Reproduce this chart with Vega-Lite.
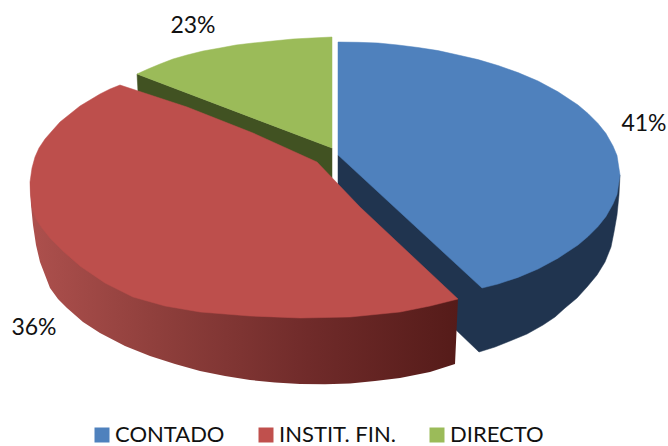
{"$schema":"https://vega.github.io/schema/vega-lite/v6.json","width":668,"height":446,"padding":0,"autosize":"none","background":"white","config":{"view":{"stroke":null}},
"datasets":{
"slices":[{"series":"CONTADO","share":0.41,"lx":644,"ly":124,"cx":450,"cy":150},{"series":"INSTIT. FIN.","share":0.36,"lx":34,"ly":328,"cx":200,"cy":200},{"series":"DIRECTO","share":0.23,"lx":193,"ly":26,"cx":280,"cy":90}],
"outline":[
{"part":"green_wall","order":1,"x":137,"y":74},{"part":"green_wall","order":2,"x":138,"y":92},{"part":"green_wall","order":3,"x":332,"y":178},{"part":"green_wall","order":4,"x":332,"y":148},
{"part":"green_top","order":1,"x":332,"y":148},{"part":"green_top","order":2,"x":332,"y":37},{"part":"green_top","order":3,"x":312,"y":38},{"part":"green_top","order":4,"x":293,"y":39},{"part":"green_top","order":5,"x":273,"y":41},{"part":"green_top","order":6,"x":253,"y":43},{"part":"green_top","order":7,"x":236,"y":45},{"part":"green_top","order":8,"x":220,"y":48},{"part":"green_top","order":9,"x":203,"y":51},{"part":"green_top","order":10,"x":187,"y":55},{"part":"green_top","order":11,"x":173,"y":59},{"part":"green_top","order":12,"x":160,"y":64},{"part":"green_top","order":13,"x":148,"y":69},{"part":"green_top","order":14,"x":137,"y":74},
{"part":"blue_wall","order":1,"x":620,"y":175},{"part":"blue_wall","order":2,"x":619,"y":195},{"part":"blue_wall","order":3,"x":617,"y":215},{"part":"blue_wall","order":4,"x":614,"y":232},{"part":"blue_wall","order":5,"x":611,"y":247},{"part":"blue_wall","order":6,"x":605,"y":262},{"part":"blue_wall","order":7,"x":597,"y":275},{"part":"blue_wall","order":8,"x":587,"y":287},{"part":"blue_wall","order":9,"x":577,"y":298},{"part":"blue_wall","order":10,"x":565,"y":308},{"part":"blue_wall","order":11,"x":555,"y":317},{"part":"blue_wall","order":12,"x":543,"y":325},{"part":"blue_wall","order":13,"x":527,"y":334},{"part":"blue_wall","order":14,"x":510,"y":341},{"part":"blue_wall","order":15,"x":495,"y":347},{"part":"blue_wall","order":16,"x":479,"y":352},{"part":"blue_wall","order":17,"x":456,"y":330},{"part":"blue_wall","order":18,"x":338,"y":190},{"part":"blue_wall","order":19,"x":338,"y":155},{"part":"blue_wall","order":20,"x":480,"y":180},
{"part":"blue_top","order":1,"x":338,"y":155},{"part":"blue_top","order":2,"x":338,"y":42},{"part":"blue_top","order":3,"x":358,"y":42.3},{"part":"blue_top","order":4,"x":378,"y":43},{"part":"blue_top","order":5,"x":398,"y":45},{"part":"blue_top","order":6,"x":418,"y":47.5},{"part":"blue_top","order":7,"x":438,"y":50.6},{"part":"blue_top","order":8,"x":458,"y":55},{"part":"blue_top","order":9,"x":478,"y":59.6},{"part":"blue_top","order":10,"x":498,"y":65.5},{"part":"blue_top","order":11,"x":518,"y":72.6},{"part":"blue_top","order":12,"x":538,"y":81},{"part":"blue_top","order":13,"x":558,"y":91.8},{"part":"blue_top","order":14,"x":578,"y":105},{"part":"blue_top","order":15,"x":588,"y":113.5},{"part":"blue_top","order":16,"x":598,"y":123.5},{"part":"blue_top","order":17,"x":606,"y":133.6},{"part":"blue_top","order":18,"x":613,"y":146},{"part":"blue_top","order":19,"x":617,"y":155.6},{"part":"blue_top","order":20,"x":620,"y":175},{"part":"blue_top","order":21,"x":617,"y":194.4},{"part":"blue_top","order":22,"x":613,"y":204},{"part":"blue_top","order":23,"x":606,"y":216.4},{"part":"blue_top","order":24,"x":598,"y":226.5},{"part":"blue_top","order":25,"x":588,"y":236.5},{"part":"blue_top","order":26,"x":578,"y":245},{"part":"blue_top","order":27,"x":558,"y":258.2},{"part":"blue_top","order":28,"x":538,"y":269},{"part":"blue_top","order":29,"x":518,"y":277.4},{"part":"blue_top","order":30,"x":498,"y":284},{"part":"blue_top","order":31,"x":482,"y":288},
{"part":"red_wall","order":1,"x":30,"y":182},{"part":"red_wall","order":2,"x":31,"y":205},{"part":"red_wall","order":3,"x":33,"y":225},{"part":"red_wall","order":4,"x":36,"y":245},{"part":"red_wall","order":5,"x":40,"y":262},{"part":"red_wall","order":6,"x":50,"y":288},{"part":"red_wall","order":7,"x":58,"y":299},{"part":"red_wall","order":8,"x":67,"y":308},{"part":"red_wall","order":9,"x":83,"y":322},{"part":"red_wall","order":10,"x":100,"y":333},{"part":"red_wall","order":11,"x":125,"y":346},{"part":"red_wall","order":12,"x":150,"y":356},{"part":"red_wall","order":13,"x":175,"y":364},{"part":"red_wall","order":14,"x":200,"y":371},{"part":"red_wall","order":15,"x":225,"y":376},{"part":"red_wall","order":16,"x":250,"y":380},{"part":"red_wall","order":17,"x":275,"y":382.5},{"part":"red_wall","order":18,"x":300,"y":384},{"part":"red_wall","order":19,"x":325,"y":384.3},{"part":"red_wall","order":20,"x":350,"y":383.5},{"part":"red_wall","order":21,"x":375,"y":381},{"part":"red_wall","order":22,"x":400,"y":378},{"part":"red_wall","order":23,"x":430,"y":372},{"part":"red_wall","order":24,"x":455,"y":364},{"part":"red_wall","order":25,"x":458,"y":299},{"part":"red_wall","order":26,"x":300,"y":280},
{"part":"red_top","order":1,"x":120,"y":85},{"part":"red_top","order":2,"x":110,"y":89},{"part":"red_top","order":3,"x":100,"y":94},{"part":"red_top","order":4,"x":90,"y":100},{"part":"red_top","order":5,"x":80,"y":106},{"part":"red_top","order":6,"x":70,"y":114},{"part":"red_top","order":7,"x":60,"y":122},{"part":"red_top","order":8,"x":52,"y":131},{"part":"red_top","order":9,"x":45,"y":139},{"part":"red_top","order":10,"x":39,"y":148},{"part":"red_top","order":11,"x":35,"y":157},{"part":"red_top","order":12,"x":32,"y":168},{"part":"red_top","order":13,"x":30,"y":182},{"part":"red_top","order":14,"x":30.5,"y":195},{"part":"red_top","order":15,"x":32,"y":207},{"part":"red_top","order":16,"x":36,"y":219},{"part":"red_top","order":17,"x":42,"y":228},{"part":"red_top","order":18,"x":50,"y":238},{"part":"red_top","order":19,"x":64,"y":252},{"part":"red_top","order":20,"x":80,"y":266},{"part":"red_top","order":21,"x":105,"y":283},{"part":"red_top","order":22,"x":133,"y":297},{"part":"red_top","order":23,"x":165,"y":306},{"part":"red_top","order":24,"x":200,"y":312},{"part":"red_top","order":25,"x":250,"y":316},{"part":"red_top","order":26,"x":300,"y":318},{"part":"red_top","order":27,"x":350,"y":317},{"part":"red_top","order":28,"x":400,"y":312},{"part":"red_top","order":29,"x":430,"y":306},{"part":"red_top","order":30,"x":458,"y":299},{"part":"red_top","order":31,"x":360,"y":207},{"part":"red_top","order":32,"x":317,"y":162},{"part":"red_top","order":33,"x":253,"y":133},{"part":"red_top","order":34,"x":187,"y":107}
]},
"layer":[
{"data":{"name":"slices"},"mark":{"type":"square","size":100,"opacity":1},"encoding":{"x":{"field":"cx","type":"quantitative","scale":{"domain":[0,668],"nice":false,"zero":false},"axis":null},"y":{"field":"cy","type":"quantitative","scale":{"domain":[446,0],"nice":false,"zero":false},"axis":null},"fill":{"field":"series","type":"nominal","scale":{"domain":["CONTADO","INSTIT. FIN.","DIRECTO"],"range":["#4f81bd","#c0504d","#9bbb59"]},"legend":{"title":null,"orient":"none","legendX":91,"legendY":424,"direction":"horizontal","columns":3,"symbolType":"square","symbolSize":225,"symbolStrokeWidth":0,"symbolOpacity":1,"labelFont":"Lato","labelFontSize":22,"labelColor":"#111111","labelOffset":2,"columnPadding":30,"gridAlign":"none"}}}},
{"data":{"name":"outline"},"transform":[{"filter":"datum.part=='green_wall'"}],"mark":{"type":"line","fill":"#415222","stroke":"#415222","strokeWidth":0.5,"interpolate":"linear-closed"},"encoding":{"x":{"field":"x","type":"quantitative","axis":null},"y":{"field":"y","type":"quantitative","axis":null},"order":{"field":"order"}}},
{"data":{"name":"outline"},"transform":[{"filter":"datum.part=='green_top'"}],"mark":{"type":"line","fill":"#9bbb59","stroke":"#9bbb59","strokeWidth":0.5,"interpolate":"linear-closed"},"encoding":{"x":{"field":"x","type":"quantitative","axis":null},"y":{"field":"y","type":"quantitative","axis":null},"order":{"field":"order"}}},
{"data":{"name":"outline"},"transform":[{"filter":"datum.part=='blue_wall'"}],"mark":{"type":"line","fill":"#20344f","stroke":"#20344f","strokeWidth":0.5,"interpolate":"linear-closed"},"encoding":{"x":{"field":"x","type":"quantitative","axis":null},"y":{"field":"y","type":"quantitative","axis":null},"order":{"field":"order"}}},
{"data":{"name":"outline"},"transform":[{"filter":"datum.part=='blue_top'"}],"mark":{"type":"line","fill":"#4f81bd","stroke":"#4f81bd","strokeWidth":0.5,"interpolate":"linear-closed"},"encoding":{"x":{"field":"x","type":"quantitative","axis":null},"y":{"field":"y","type":"quantitative","axis":null},"order":{"field":"order"}}},
{"data":{"name":"outline"},"transform":[{"filter":"datum.part=='red_wall'"}],"mark":{"type":"line","fill":{"gradient":"linear","x1":0,"x2":1,"y1":0,"y2":0,"stops":[{"offset":0,"color":"#ad504d"},{"offset":0.3,"color":"#8f3f3c"},{"offset":0.65,"color":"#702b2a"},{"offset":1,"color":"#551b19"}]},"strokeWidth":0,"interpolate":"linear-closed"},"encoding":{"x":{"field":"x","type":"quantitative","axis":null},"y":{"field":"y","type":"quantitative","axis":null},"order":{"field":"order"}}},
{"data":{"name":"outline"},"transform":[{"filter":"datum.part=='red_top'"}],"mark":{"type":"line","fill":"#bd4f4c","stroke":"#bd4f4c","strokeWidth":0.5,"interpolate":"linear-closed"},"encoding":{"x":{"field":"x","type":"quantitative","axis":null},"y":{"field":"y","type":"quantitative","axis":null},"order":{"field":"order"}}},
{"data":{"name":"slices"},"mark":{"type":"text","font":"Lato","fontSize":23,"color":"#111111","align":"center","baseline":"middle"},"encoding":{"x":{"field":"lx","type":"quantitative"},"y":{"field":"ly","type":"quantitative"},"text":{"field":"share","type":"quantitative","format":".0%"}}}
]}
